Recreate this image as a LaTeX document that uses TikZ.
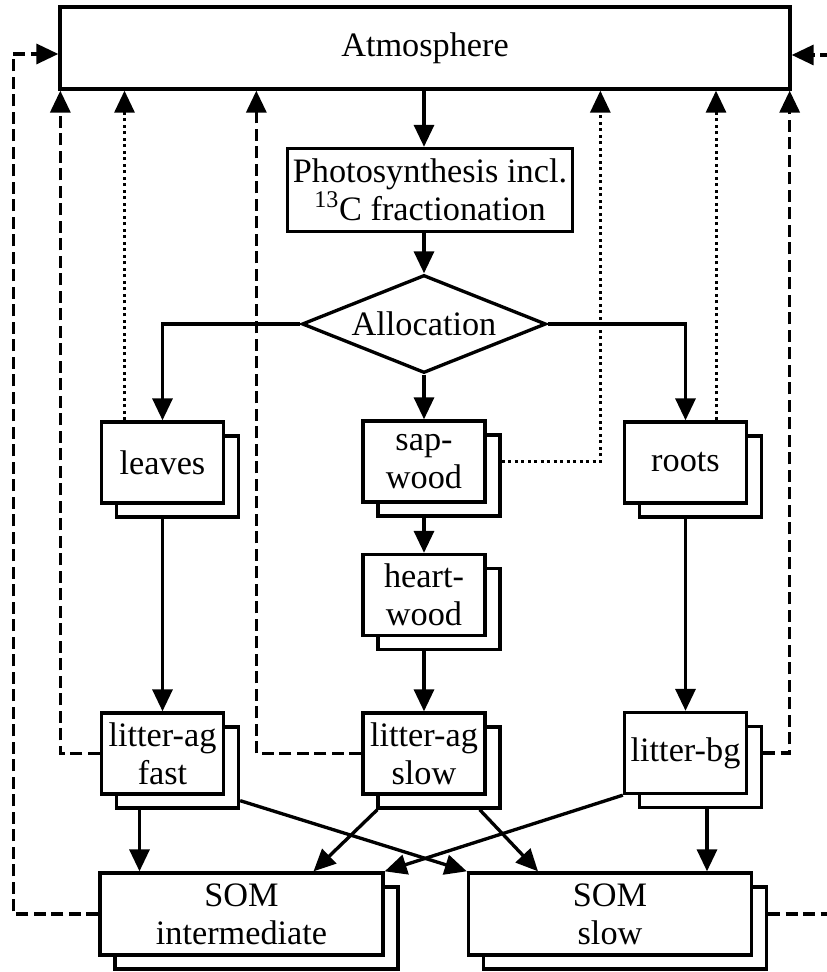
\documentclass[tikz,border=0pt]{standalone}
\usepackage{fontspec}
\setmainfont{Liberation Serif}
\usetikzlibrary{arrows.meta,positioning,calc,shapes.geometric,backgrounds}

\begin{document}
\begin{tikzpicture}[
  font=\fontsize{19.5}{21.6}\selectfont,
  proc/.style={rectangle, draw, line width=1.9pt, fill=white, align=center, inner sep=2pt},
  pool/.style={proc, minimum width=2.44cm, minimum height=1.62cm,
    preaction={draw, fill=white, line width=1.9pt, transform canvas={shift={(0.3cm,-0.28cm)}}}},
  som/.style={pool, minimum width=5.66cm, minimum height=1.64cm},
  choice/.style={diamond, draw, line width=1.9pt, fill=white, aspect=2.5, inner sep=1pt,
    minimum width=4.88cm, minimum height=1.96cm},
  flow/.style={line width=1.9pt, -{Triangle[length=0.44cm, width=0.4cm]}},
  resp/.style={flow, dash pattern=on 0.24cm off 0.11cm},
  trans/.style={flow, line width=1.7pt, dash pattern=on 1.7pt off 2pt}
]
  \useasboundingbox (0,0) rectangle (16.52,19.44);

  \node[proc, minimum width=14.6cm, minimum height=1.64cm] (atm) at (8.5,18.48) {Atmosphere};
  \node[proc, minimum width=5.7cm, minimum height=1.66cm] (photo) at (8.6,15.64) {Photosynthesis incl.\\\textsuperscript{13}C fractionation};
  \node[choice] (alloc) at (8.48,12.96) {Allocation};
  \node[pool] (leaves) at (3.25,10.19) {leaves};
  \node[pool] (sap) at (8.48,10.21) {sap-\\wood};
  \node[pool] (roots) at (13.71,10.19) {roots};
  \node[pool] (heart) at (8.48,7.54) {heart-\\wood};
  \node[pool] (litfast) at (3.25,4.37) {litter-ag\\fast};
  \node[pool] (litslow) at (8.48,4.37) {litter-ag\\slow};
  \node[pool] (litbg) at (13.71,4.38) {litter-bg};
  \node[som] (somint) at (4.83,1.16) {SOM\\intermediate};
  \node[som] (somslow) at (12.2,1.16) {SOM\\slow};

  \begin{scope}[on background layer]
    % carbon flow
    \draw[flow] (atm.south -| alloc) -- (photo.north -| alloc);
    \draw[flow] (photo.south -| alloc) -- (alloc.north);
    \draw[flow] (alloc.west) -| (leaves.north);
    \draw[flow] (alloc.south) -- (sap.north);
    \draw[flow] (alloc.east) -| (roots.north);
    \draw[flow] (leaves) -- (litfast);
    \draw[flow] (sap) -- (heart);
    \draw[flow] (heart) -- (litslow);
    \draw[flow] (roots) -- (litbg);
    \draw[flow] ([xshift=-0.46cm]litfast.south) -- ([xshift=-0.46cm]litfast.south |- somint.north);
    \draw[flow] ([xshift=0.3cm,yshift=-0.1cm]litfast.south east) -- (somslow.north west);
    \draw[flow] ([xshift=0.32cm,yshift=-0.28cm]litslow.south west) -- ([xshift=1.44cm]somint.north);
    \draw[flow] ([xshift=-0.14cm,yshift=-0.28cm]litslow.south east) -- ([xshift=-1.44cm]somslow.north);
    \draw[flow] (litbg.south west) -- (somint.north east);
    \draw[flow] ([xshift=0.43cm]litbg.south) -- ([xshift=0.43cm]litbg.south |- somslow.north);
    % respiration
    \draw[resp] (somint.west) -- ++(-1.7,0) |- ([yshift=-0.12cm]atm.west);
    \draw[resp] ([xshift=0.3cm]somslow.east) -- ++(1.5,0) |- ([yshift=-0.14cm]atm.east);
    \draw[resp] (litfast.west) -| ([xshift=0.04cm]atm.south west);
    \draw[resp] (litslow.west) -| ([xshift=3.96cm]atm.south west);
    \draw[resp] ([xshift=0.3cm]litbg.east) -| ([xshift=-0.04cm]atm.south east);
    % plant respiration
    \draw[trans] ([xshift=-0.76cm]leaves.north) -- ([xshift=-0.76cm]leaves.north |- atm.south);
    \draw[trans] ([xshift=0.3cm]sap.east) -| ([xshift=10.84cm]atm.south west);
    \draw[trans] ([xshift=0.61cm]roots.north) -- ([xshift=0.61cm]roots.north |- atm.south);
  \end{scope}
\end{tikzpicture}
\end{document}
